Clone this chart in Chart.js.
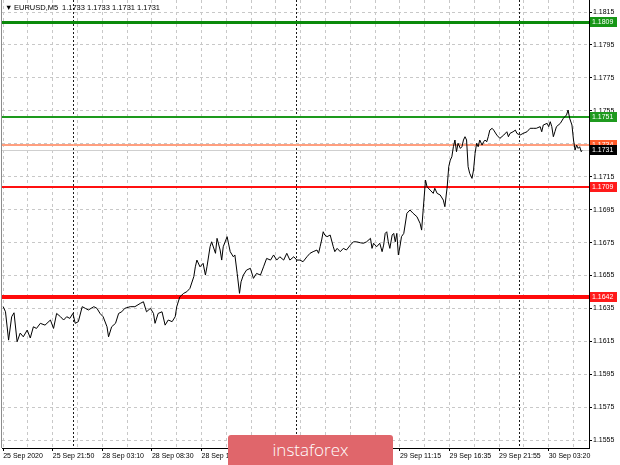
<!DOCTYPE html>
<html>
<head>
<meta charset="utf-8">
<title>EURUSD,M5</title>
<script src="https://cdn.jsdelivr.net/npm/chart.js@4.4.1/dist/chart.umd.min.js"></script>
<style>
  html, body { margin: 0; padding: 0; background: #fff; }
  #wrap { position: relative; width: 620px; height: 465px; overflow: hidden; }
  #logo {
    position: absolute; left: 228px; top: 435px; width: 165px; height: 32px;
    background: #e0666b; border-radius: 3px 3px 0 0; color: #fff;
    font: 300 17px "Open Sans", "Lato", sans-serif; text-align: center; line-height: 30px;
  }
</style>
</head>
<body>
<div id="wrap">
  <canvas id="grafico" width="620" height="465"></canvas>
  <div id="logo">instaforex</div>
</div>
<script>
// chart data
const symbol = "EURUSD,M5";
const lastBar = [1.1733, 1.1733, 1.1731, 1.1731];

const bars = [
  0, 3, 7, 11, 14, 18, 22, 26, 31, 35,
  39, 43, 48, 54, 61, 65, 69, 74, 78, 82,
  86, 90, 93, 97, 102, 106, 110, 117, 121, 125,
  129, 134, 136, 140, 145, 149, 153, 157, 164, 170,
  177, 181, 185, 190, 194, 196, 200, 205, 209, 213,
  218, 222, 224, 228, 233, 237, 241, 246, 248, 250,
  254, 258, 261, 263, 267, 269, 274, 276, 280, 282,
  284, 289, 293, 297, 299, 302, 305, 307, 310, 314,
  319, 323, 327, 332, 336, 340, 345, 349, 353, 357,
  362, 366, 370, 375, 379, 383, 387, 392, 396, 400,
  405, 407, 409, 411, 413, 415, 418, 422, 426, 428,
  431, 435, 439, 443, 448, 452, 456, 461, 465, 469,
  474, 476, 478, 482, 486, 489, 491, 493, 495, 497,
  499, 502, 504, 506, 508, 510, 512, 514, 517, 521,
  525, 529, 534, 538, 540, 542, 545, 547, 551, 555,
  557, 560, 564, 568, 570, 573, 575, 577, 579, 581,
  583, 585, 587, 590, 592, 594, 596, 598, 600, 602,
  605, 607, 609, 611, 613, 615, 618, 620, 622, 624,
  626, 628, 631, 633, 637, 641, 646, 650, 652, 654,
  658, 661, 663, 667, 671, 676, 680, 684, 688, 693,
  695, 697, 702, 704, 706, 708, 710, 712, 714, 719,
  723, 727, 729, 731, 734, 736, 738, 740, 742, 744,
  746, 747
];

const closes = [
  1.16361, 1.16330, 1.16158, 1.16300, 1.16324, 1.16148, 1.16201, 1.16178, 1.16219, 1.16171,
  1.16239, 1.16229, 1.16260, 1.16249, 1.16280, 1.16229, 1.16320, 1.16300, 1.16280, 1.16300,
  1.16290, 1.16320, 1.16260, 1.16270, 1.16361, 1.16351, 1.16341, 1.16361, 1.16351, 1.16320,
  1.16300, 1.16239, 1.16178, 1.16239, 1.16260, 1.16320, 1.16330, 1.16351, 1.16361, 1.16361,
  1.16381, 1.16391, 1.16330, 1.16351, 1.16320, 1.16260, 1.16320, 1.16330, 1.16249, 1.16280,
  1.16270, 1.16300, 1.16361, 1.16421, 1.16442, 1.16452, 1.16472, 1.16543, 1.16603, 1.16644,
  1.16603, 1.16624, 1.16553, 1.16603, 1.16725, 1.16755, 1.16685, 1.16776, 1.16705, 1.16644,
  1.16725, 1.16786, 1.16695, 1.16664, 1.16675, 1.16563, 1.16442, 1.16512, 1.16553, 1.16583,
  1.16594, 1.16533, 1.16563, 1.16553, 1.16603, 1.16654, 1.16644, 1.16675, 1.16644, 1.16664,
  1.16644, 1.16685, 1.16644, 1.16664, 1.16644, 1.16644, 1.16634, 1.16664, 1.16685, 1.16695,
  1.16705, 1.16685, 1.16725, 1.16766, 1.16816, 1.16796, 1.16786, 1.16796, 1.16725, 1.16695,
  1.16715, 1.16695, 1.16715, 1.16705, 1.16735, 1.16755, 1.16755, 1.16749, 1.16746, 1.16755,
  1.16776, 1.16715, 1.16746, 1.16725, 1.16746, 1.16695, 1.16735, 1.16806, 1.16816, 1.16755,
  1.16715, 1.16796, 1.16806, 1.16755, 1.16806, 1.16675, 1.16725, 1.16786, 1.16806, 1.16928,
  1.16948, 1.16928, 1.16907, 1.16867, 1.16826, 1.16948, 1.17130, 1.17089, 1.17069, 1.17049,
  1.17080, 1.17049, 1.17039, 1.17008, 1.16968, 1.17089, 1.17211, 1.17251, 1.17271, 1.17332,
  1.17373, 1.17302, 1.17353, 1.17322, 1.17332, 1.17373, 1.17393, 1.17373, 1.17211, 1.17171,
  1.17140, 1.17191, 1.17292, 1.17353, 1.17332, 1.17373, 1.17342, 1.17362, 1.17373, 1.17362,
  1.17393, 1.17433, 1.17444, 1.17433, 1.17403, 1.17383, 1.17403, 1.17423, 1.17393, 1.17413,
  1.17423, 1.17433, 1.17413, 1.17403, 1.17413, 1.17423, 1.17444, 1.17444, 1.17444, 1.17454,
  1.17423, 1.17464, 1.17474, 1.17454, 1.17484, 1.17454, 1.17393, 1.17423, 1.17454, 1.17474,
  1.17505, 1.17525, 1.17555, 1.17505, 1.17464, 1.17373, 1.17312, 1.17342, 1.17322, 1.17332,
  1.17302, 1.17310
];

const timeLabels = [
  "25 Sep 2020", "25 Sep 21:50", "28 Sep 03:10", "28 Sep 08:30", "28 Sep 13:50", "28 Sep 19:10",
  "29 Sep 00:30", "29 Sep 05:50", "29 Sep 11:15", "29 Sep 16:35", "29 Sep 21:55", "30 Sep 03:20"
];
const labelBars = [0, 64, 128, 192, 256, 320, 384, 448, 512, 576, 640, 704];
const daySeparators = [90, 378, 666];

const priceTicks = [
  1.1815, 1.1795, 1.1775, 1.1755, 1.1735, 1.1715, 1.1695,
  1.1675, 1.1655, 1.1635, 1.1615, 1.1595, 1.1575, 1.1555
];

const levelPrices = [1.1809, 1.1751, 1.1734, 1.1709, 1.1642];
const levelColors = ["#0b8a0b", "#1d9a1d", "#ff9f7f", "#ff1010", "#ff0a0a"];
const levelBoxColors = ["#169616", "#1f9a1f", "#ff5a28", "#ff1a1a", "#ff1a1a"];
const levelWidths = [3, 2, 2, 2, 4];
const bidPrice = 1.1731;

const FONT = '"Liberation Sans", Arial, sans-serif';

// vertical grid every half label step
const gridBars = [];
for (let b = 0; b <= 736; b += 32) gridBars.push(b);

const noPad = s => { s.paddingTop = 0; s.paddingBottom = 0; s.paddingLeft = 0; s.paddingRight = 0; };

const overlay = {
  id: "overlay",
  beforeDatasetsDraw(chart) {
    const { ctx, chartArea: a, scales: { x, y } } = chart;
    ctx.save();
    ctx.strokeStyle = "#1a1a1a";
    ctx.lineWidth = 1;
    ctx.setLineDash([2, 2]);
    daySeparators.forEach(b => {
      const px = Math.round(x.getPixelForValue(b)) + 0.5;
      ctx.beginPath(); ctx.moveTo(px, a.top); ctx.lineTo(px, a.bottom); ctx.stroke();
    });
    ctx.setLineDash([]);
    const by = Math.round(y.getPixelForValue(bidPrice)) + 0.5;
    ctx.strokeStyle = "#cfcfcf";
    ctx.beginPath(); ctx.moveTo(a.left, by); ctx.lineTo(a.right, by); ctx.stroke();
    levelPrices.forEach((p, i) => {
      const py = Math.round(y.getPixelForValue(p)) + (levelWidths[i] % 2 ? 0.5 : 0);
      ctx.strokeStyle = levelColors[i];
      ctx.lineWidth = levelWidths[i];
      ctx.beginPath(); ctx.moveTo(a.left, py); ctx.lineTo(a.right, py); ctx.stroke();
    });
    ctx.restore();
  },
  afterDraw(chart) {
    const { ctx, chartArea: a, scales: { y } } = chart;
    ctx.save();
    // frame
    ctx.strokeStyle = "#8c8c8c";
    ctx.lineWidth = 1;
    ctx.beginPath(); ctx.moveTo(a.left - 0.5, 0); ctx.lineTo(a.left - 0.5, a.bottom); ctx.stroke();

    // price boxes on the right axis
    ctx.font = "7px " + FONT;
    ctx.textBaseline = "middle";
    const box = (p, col) => {
      const py = Math.round(y.getPixelForValue(p));
      ctx.fillStyle = col;
      ctx.fillRect(a.right + 1, py - 5, 27, 10);
      ctx.fillStyle = "#fff";
      ctx.fillText(p.toFixed(4), a.right + 3, py + 0.5);
    };
    levelPrices.forEach((p, i) => box(p, levelBoxColors[i]));
    box(bidPrice, "#000");

    // header
    ctx.fillStyle = "#000";
    ctx.font = "7.5px " + FONT;
    ctx.fillText("\u25BC", 5, 8);
    ctx.fillText(symbol, 14, 8);
    ctx.fillText(lastBar.map(v => v.toFixed(4)).join(" "), 62, 8);
    ctx.restore();
  }
};

const ctx = document.getElementById("grafico").getContext("2d");
new Chart(ctx, {
  type: "line",
  data: {
    datasets: [{
      data: bars.map((b, i) => ({ x: b, y: closes[i] })),
      borderColor: "#000",
      borderWidth: 1,
      pointRadius: 0,
      tension: 0,
      fill: false
    }]
  },
  options: {
    responsive: false,
    animation: false,
    devicePixelRatio: 1,
    layout: { padding: { left: 2, top: 0, right: 0, bottom: 0 } },
    plugins: { legend: { display: false }, tooltip: { enabled: false } },
    scales: {
      x: {
        type: "linear",
        min: -1.5,
        max: 756,
        afterBuildTicks: s => { s.ticks = gridBars.map(v => ({ value: v })); },
        afterFit: s => { s.height = 17; noPad(s); },
        grid: {
          color: "#c8c8c8",
          tickLength: 3,
          tickColor: c => (c.tick && labelBars.includes(c.tick.value)) ? "#000" : "rgba(0,0,0,0)"
        },
        border: { display: true, color: "#000", width: 1, dash: [3, 3] },
        ticks: {
          autoSkip: false,
          maxRotation: 0,
          align: "start",
          padding: 1,
          color: "#000",
          font: { family: FONT, size: 7 },
          callback: v => {
            const k = labelBars.indexOf(v);
            return k >= 0 ? timeLabels[k] : "";
          }
        }
      },
      y: {
        position: "right",
        min: 1.15503,
        max: 1.18223,
        afterBuildTicks: s => { s.ticks = priceTicks.map(v => ({ value: v })); },
        afterFit: s => { s.width = 31; noPad(s); },
        grid: { color: "#c8c8c8", tickColor: "#000", tickLength: 3 },
        border: { display: true, color: "#000", width: 1, dash: [3, 3] },
        ticks: {
          padding: 1,
          color: "#000",
          font: { family: FONT, size: 7 },
          callback: v => v.toFixed(4)
        }
      }
    }
  },
  plugins: [overlay]
});
</script>
</body>
</html>
